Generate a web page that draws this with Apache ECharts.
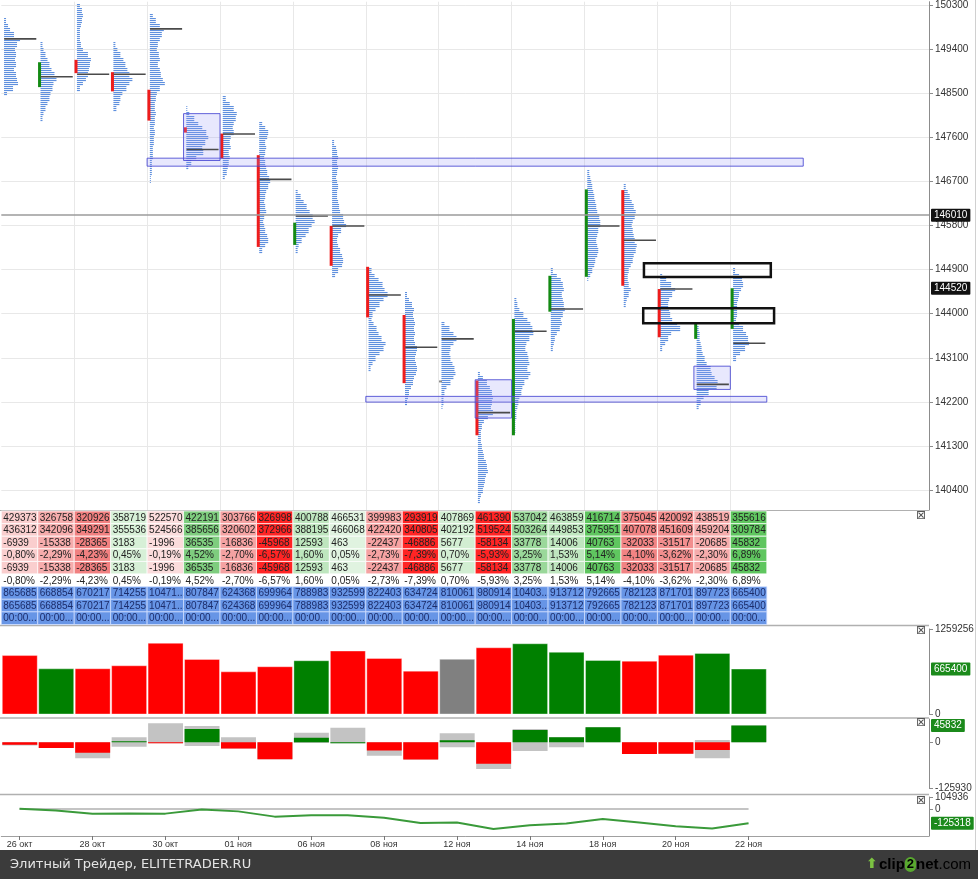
<!DOCTYPE html>
<html><head><meta charset="utf-8">
<script src="https://cdn.jsdelivr.net/npm/echarts@6/dist/echarts.min.js"></script>
<style>html,body{margin:0;padding:0;background:#fff;}#c{width:978px;height:879px;}</style>
</head><body><div id="c"></div>
<script>
// ---------- DATA ----------
const dateLabels = ['26 окт','28 окт','30 окт','01 ноя','06 ноя','08 ноя','12 ноя','14 ноя','18 ноя','20 ноя','22 ноя'];
const dateLabelDays = [0,2,4,6,8,10,12,14,16,18,20];
const priceTicks = [140400,141300,142200,143100,144000,144900,145800,146700,147600,148500,149400,150300];

const openPrice  = [null,148624,149181,148929,148571,147804,147676,147235,145404,145791,144957,143974,142638,142638,141519,144041,144753,146523,144503,143486,143690];
const closePrice = [null,149132,148909,148537,147941,147696,147168,145363,145858,144977,143925,142583,142638,141519,143893,144774,146537,144570,143519,143791,144520];
const dayDir = ['down','up','down','down','down','down','down','down','up','down','down','down','flat','down','up','up','up','down','down','up','up'];
const pocPrice = [149608,148836,148888,148888,149812,147351,147668,146741,145994,145791,144381,143315,143486,141981,143641,144097,145791,145500,144503,142557,143397];

const profileTop = [150000,149500,150300,149500,150100,148200,148400,147900,146500,147500,144900,144400,143800,142800,144300,144900,146900,146600,144800,143700,144900];
const profileVol = [
 [2,4,6,10,16,13,11,12,11,12,10,12,13,14,9,3],
 [2,3,5,7,9,11,14,16,13,12,10,9,7,5,3,2],
 [3,5,6,5,4,3,3,3,4,6,11,14,13,12,11,9,6,3],
 [2,4,7,10,12,14,16,19,16,13,9,7,6,3],
 [3,6,10,14,12,10,8,7,9,10,8,10,11,13,15,10,7,6,5,5,6,5,5,4,5,4,4,3,3,3,2,2,2,1,1],
 [1,3,8,12,16,20,22,19,16,17,10,5,2],
 [3,7,11,14,13,11,10,11,8,7,8,6,7,6,5,4,2],
 [3,6,9,8,6,7,6,5,6,7,8,10,11,9,7,6,5,6,7,5,4,5,6,8,9,6,3],
 [2,5,8,11,14,17,19,16,13,10,6,3,2],
 [2,4,5,6,5,6,5,4,5,6,5,5,6,7,8,11,12,14,9,6,5,6,8,10,11,10,6,3],
 [3,6,10,14,16,19,15,11,7,4,3,5,8,10,13,17,15,11,7,4,2],
 [2,4,7,9,8,9,10,9,10,9,10,12,11,10,11,12,11,9,8,6,4,3,2],
 [3,8,12,15,12,9,8,9,11,13,14,12,9,5,3,2,2,1],
 [2,5,9,12,14,15,14,13,15,10,6,4,3,3,3,4,5,6,8,9,10,8,7,6,5,3,2],
 [2,3,5,9,13,16,18,19,15,12,11,13,14,15,13,16,14,10,8,7,5,4,3,2,2,1,1,1],
 [2,6,10,12,13,11,12,13,14,12,10,11,9,6,4,3,2],
 [2,3,4,5,6,7,8,9,10,12,13,13,11,10,9,10,11,10,8,7,5,3,1],
 [2,4,6,8,10,12,11,9,8,9,10,11,13,12,10,9,7,5,4,4,5,7,5,3,2],
 [2,6,11,15,12,9,8,9,10,12,17,20,11,8,5,2],
 [2,3,3,4,5,6,8,10,14,15,18,21,20,12,7,4,2],
 [2,6,9,10,8,6,5,4,4,4,3,6,10,13,15,16,12,7,3]
];

// zones: [dayFrom, dayTo, priceTop, priceBottom, kind] kind 0=band 1=value area 2=frame
const zones = [
 [4,22,147174,147011,0],
 [10,21,142313,142196,0],
 [5,6,148083,147127,1],
 [13,14,142652,141871,1],
 [19,20,142929,142455,1],
 [17.63,21.11,145032,144747,2],
 [17.61,21.2,144109,143803,2]
];
const levelLine = 146010;
const lastPrice = 144520;

const buyVol  = [429373,326758,320926,358719,522570,422191,303766,326998,400788,466531,399983,293919,407869,461390,537042,463859,416714,375045,420092,438519,355616];
const sellVol = [436312,342096,349291,355536,524566,385656,320602,372966,388195,466068,422420,340805,402192,519524,503264,449853,375951,407078,451609,459204,309784];
const deltaVal = [-6939,-15338,-28365,3183,-1996,36535,-16836,-45968,12593,463,-22437,-46886,5677,-58134,33778,14006,40763,-32033,-31517,-20685,45832];
const deltaPct = [-0.80,-2.29,-4.23,0.45,-0.19,4.52,-2.70,-6.57,1.60,0.05,-2.73,-7.39,0.70,-5.93,3.25,1.53,5.14,-4.10,-3.62,-2.30,6.89];
const totalVol = [865685,668854,670217,714255,1047136,807847,624368,699964,788983,932599,822403,634724,810061,980914,1040306,913712,792665,782123,871701,897723,665400];
const timeText = '00:00:00';

const deltaMax = [0,0,0,13700,52000,44400,13700,0,26000,40000,0,0,24500,0,36000,14006,40763,0,0,6000,45832];
const deltaMin = [-9000,-15338,-43500,-12000,-2700,-10000,-16836,-45968,-2000,-2700,-36500,-46886,-13600,-72800,-23700,-13600,0,-32033,-31517,-43700,0];
const cumDelta = [2047,-13291,-41656,-38473,-40469,-3934,-20770,-66738,-54145,-53682,-76119,-123005,-117328,-175462,-141684,-127678,-86915,-118948,-150465,-171150,-125318];

const volMax = 1259256, deltaAxisMin = -125930, cumAxisTop = 104936;

// ---------- STYLE ----------
const FONT = '"Liberation Sans", Arial, sans-serif';
const RED = '#ee1c1c', GREEN = '#138a13', GRAY = '#8a8a8a';
const dirColor = d => d === 'up' ? GREEN : (d === 'down' ? RED : GRAY);
const volColor = d => d === 'up' ? '#008000' : (d === 'down' ? '#ff0000' : '#808080');
const COLW = 36.45;
const XMAX = 25.45;

const days = buyVol.map((_, i) => i);

function mix(c, t) { return 'rgb(' + c.map(v => Math.round(255 - (255 - v) * t)).join(',') + ')'; }
function deltaColor(p) {
  const a = Math.abs(p);
  if (p >= 0) return a > 5 ? '#5fc65f' : mix([55, 178, 55], 0.15 + 0.11 * a);
  return a > 5 ? '#ff2424' : mix([232, 48, 48], 0.15 + 0.11 * a);
}
const fmtPct = v => v.toFixed(2).replace('.', ',') + '%';
const trunc = s => s.length > 6 ? s.slice(0, 5) + '...' : s;

// ---------- SERIES DATA ----------
const profileData = [];
profileVol.forEach((arr, d) => arr.forEach((v, i) => profileData.push([d, profileTop[d] - 100 * i, v])));
const candleData = days.filter(d => openPrice[d] != null).map(d => [d, openPrice[d], closePrice[d], d]);
const pocData = days.map(d => [d, pocPrice[d]]);
const zoneData = zones.map(z => [z[0], z[2], z[1], z[3], z[4]]);
const tableRows = 9;
const tableData = [];
for (let r = 0; r < tableRows; r++) for (const c of days) tableData.push([c, r]);

function cellText(c, r) {
  switch (r) {
    case 0: return String(buyVol[c]);
    case 1: return String(sellVol[c]);
    case 2: case 4: return String(deltaVal[c]);
    case 3: case 5: return fmtPct(deltaPct[c]);
    case 6: case 7: return trunc(String(totalVol[c]));
    default: return trunc(timeText);
  }
}
function cellFill(c, r) {
  if (r <= 4) return deltaColor(deltaPct[c]);
  if (r === 5) return '#ffffff';
  return '#6795e6';
}

const tag = (txt, bg) => ({ show: true, position: 'end', formatter: txt, backgroundColor: bg, color: '#fff',
  fontSize: 10, fontFamily: FONT, padding: [2, 3, 1, 3], distance: 2, borderRadius: 1 });
const hiddenLine = { color: 'rgba(0,0,0,0)', width: 0 };

const gridLines = [];
for (let u = 2; u <= 20; u += 2) gridLines.push({ xAxis: u });
priceTicks.forEach(p => gridLines.push({ yAxis: p }));

const hiddenX = i => ({ type: 'value', gridIndex: i, min: 0, max: XMAX, show: false });
const plain = v => String(v);
const axisCommon = {
  position: 'right', axisLine: { show: true, onZero: false, lineStyle: { color: '#8c8c8c' } },
  axisTick: { show: true, length: 4, lineStyle: { color: '#8c8c8c' } },
  axisLabel: { color: '#333', fontSize: 10, fontFamily: FONT, margin: 6, formatter: plain },
  splitLine: { show: false }
};
function yAx(idx, min, max, ticks) {
  return Object.assign({}, axisCommon, { type: 'value', gridIndex: idx, min, max,
    axisTick: Object.assign({}, axisCommon.axisTick, { customValues: ticks }),
    axisLabel: Object.assign({}, axisCommon.axisLabel, { customValues: ticks }) });
}

const option = {
  animation: false,
  textStyle: { fontFamily: FONT },
  grid: [
    { left: 1.3, right: 49, top: 0, height: 510 },
    { left: 1.3, right: 49, top: 511, height: 113.5 },
    { left: 1.3, right: 49, top: 629, height: 85 },
    { left: 1.3, right: 49, top: 719, height: 69.5 },
    { left: 1.3, right: 49, top: 797, height: 39 }
  ],
  xAxis: [hiddenX(0), hiddenX(1), hiddenX(2), hiddenX(3), {
    type: 'value', gridIndex: 4, min: 0, max: XMAX, position: 'bottom',
    axisLine: { show: true, onZero: false, lineStyle: { color: '#a0a0a0' } },
    axisTick: { show: true, length: 4, lineStyle: { color: '#777' }, customValues: dateLabelDays.map(d => d + 0.5) },
    axisLabel: { color: '#333', fontSize: 9, margin: 4, customValues: dateLabelDays.map(d => d + 0.5),
      formatter: v => dateLabels[dateLabelDays.indexOf(Math.round(v - 0.5))] || '' },
    splitLine: { show: false }
  }],
  yAxis: [
    yAx(0, 139994, 150367, priceTicks),
    { type: 'value', gridIndex: 1, min: 0, max: tableRows, inverse: true, show: false },
    yAx(2, 0, volMax, [0, volMax]),
    yAx(3, deltaAxisMin, 63510, [deltaAxisMin, 0]),
    yAx(4, -236106, cumAxisTop, [0, cumAxisTop])
  ],
  series: [
    { // volume profiles
      type: 'custom', xAxisIndex: 0, yAxisIndex: 0, z: 2, silent: true, data: profileData,
      renderItem(params, api) {
        const d = api.value(0), p = api.value(1), v = api.value(2);
        const top = api.coord([d, p + 50]), bot = api.coord([d, p - 50]);
        const pxDay = api.size([1, 0])[0];
        const x0 = top[0] + pxDay * 0.075;
        const w = v / COLW * pxDay;
        const ch = [];
        for (let y = Math.ceil(top[1] / 2) * 2; y < bot[1]; y += 2)
          ch.push({ type: 'rect', shape: { x: x0, y: y, width: w, height: 1.1 }, style: { fill: '#5f90de' } });
        return { type: 'group', children: ch };
      },
      markLine: { silent: true, symbol: 'none', z: 1, label: { show: false },
        lineStyle: { color: '#e8e8e8', width: 1, type: 'solid' }, data: gridLines }
    },
    { // candle bodies
      type: 'custom', xAxisIndex: 0, yAxisIndex: 0, z: 3, silent: true, data: candleData,
      renderItem(params, api) {
        const d = api.value(0);
        const a = api.coord([d, api.value(1)]), b = api.coord([d, api.value(2)]);
        const y0 = Math.min(a[1], b[1]), h = Math.max(Math.abs(a[1] - b[1]), 2);
        return { type: 'rect', shape: { x: a[0] + 0.3, y: y0, width: 3, height: h },
          style: { fill: dirColor(dayDir[api.value(3)]) } };
      },
      markLine: { silent: true, symbol: 'none', z: 6, data: [
        { yAxis: levelLine, lineStyle: { color: '#9b9b9b', width: 1.5, type: 'solid' }, label: tag(String(levelLine), '#111') },
        { yAxis: lastPrice, lineStyle: hiddenLine, label: tag(String(lastPrice), '#111') }
      ] }
    },
    { // zones
      type: 'custom', xAxisIndex: 0, yAxisIndex: 0, z: 4, silent: true, data: zoneData,
      renderItem(params, api) {
        const k = api.value(4);
        const a = api.coord([api.value(0), api.value(1)]), b = api.coord([api.value(2), api.value(3)]);
        const shape = { x: a[0], y: a[1], width: b[0] - a[0], height: b[1] - a[1] };
        if (k === 2) return { type: 'rect', shape, style: { fill: 'none', stroke: '#111', lineWidth: 2.5 } };
        return { type: 'rect', shape, style: { fill: 'rgba(150,150,245,0.22)', stroke: 'rgba(70,70,210,0.85)', lineWidth: 1 } };
      }
    },
    { // POC lines
      type: 'custom', xAxisIndex: 0, yAxisIndex: 0, z: 5, silent: true, data: pocData,
      renderItem(params, api) {
        const d = api.value(0), p = api.value(1);
        const a = api.coord([d + 0.08, p]), b = api.coord([d + 0.96, p]);
        return { type: 'line', shape: { x1: a[0], y1: a[1], x2: b[0], y2: b[1] }, style: { stroke: '#4a4a4a', lineWidth: 1.6 } };
      }
    },
    { // table
      type: 'custom', xAxisIndex: 1, yAxisIndex: 1, z: 2, silent: true, data: tableData,
      renderItem(params, api) {
        const c = api.value(0), r = api.value(1);
        const a = api.coord([c, r]), b = api.coord([c + 1, r + 1]);
        const blue = r >= 6;
        return { type: 'group', children: [
          { type: 'rect', shape: { x: a[0], y: a[1], width: b[0] - a[0], height: b[1] - a[1] },
            style: { fill: cellFill(c, r), stroke: blue ? 'rgba(210,225,255,0.9)' : 'rgba(255,255,255,0.9)', lineWidth: 0.8 } },
          { type: 'text', style: { text: cellText(c, r), x: a[0] + 2, y: (a[1] + b[1]) / 2 + 0.5,
            fill: blue ? '#1c2d6b' : '#222', font: '10px ' + FONT, verticalAlign: 'middle', align: 'left' } }
        ] };
      }
    },
    { // volume bars
      type: 'custom', xAxisIndex: 2, yAxisIndex: 2, z: 2, silent: true,
      data: days.map(d => [d, totalVol[d]]),
      renderItem(params, api) {
        const d = api.value(0);
        const a = api.coord([d, api.value(1)]), b = api.coord([d + 1, 0]);
        return { type: 'rect', shape: { x: a[0] + 1, y: a[1], width: b[0] - a[0] - 1.5, height: b[1] - a[1] },
          style: { fill: volColor(dayDir[d]), stroke: 'rgba(255,255,255,0.35)', lineWidth: 1 } };
      },
      markLine: { silent: true, symbol: 'none', data: [
        { yAxis: totalVol[totalVol.length - 1], lineStyle: hiddenLine, label: tag(String(totalVol[totalVol.length - 1]), '#1b8a1b') } ] }
    },
    { // delta bars
      type: 'custom', xAxisIndex: 3, yAxisIndex: 3, z: 2, silent: true,
      data: days.map(d => [d, deltaVal[d], deltaMin[d], deltaMax[d]]),
      renderItem(params, api) {
        const d = api.value(0), v = api.value(1);
        const g1 = api.coord([d, api.value(3)]), g2 = api.coord([d + 1, api.value(2)]);
        const z0 = api.coord([d, 0]), z1 = api.coord([d + 1, v]);
        const x = g1[0] + 1, w = g2[0] - g1[0] - 1.5;
        return { type: 'group', children: [
          { type: 'rect', shape: { x, y: g1[1], width: w, height: g2[1] - g1[1] }, style: { fill: '#c3c3c3' } },
          { type: 'rect', shape: { x, y: Math.min(z0[1], z1[1]), width: w, height: Math.max(Math.abs(z1[1] - z0[1]), 1) },
            style: { fill: v >= 0 ? '#008000' : '#ff0000' } }
        ] };
      },
      markLine: { silent: true, symbol: 'none', data: [
        { yAxis: deltaVal[deltaVal.length - 1], lineStyle: hiddenLine, label: tag(String(deltaVal[deltaVal.length - 1]), '#1b8a1b') } ] }
    },
    { // zero line for cumulative delta
      type: 'line', xAxisIndex: 4, yAxisIndex: 4, z: 2, silent: true, symbol: 'none',
      data: days.map(d => [d + 0.5, 0]), lineStyle: { color: '#c4c4c4', width: 2 }
    },
    { // cumulative delta
      type: 'line', xAxisIndex: 4, yAxisIndex: 4, z: 3, silent: true, symbol: 'none',
      data: days.map(d => [d + 0.5, cumDelta[d]]), lineStyle: { color: '#3a9a3a', width: 2 },
      markLine: { silent: true, symbol: 'none', data: [
        { yAxis: cumDelta[cumDelta.length - 1], lineStyle: hiddenLine, label: tag(String(cumDelta[cumDelta.length - 1]), '#1b8a1b') } ] }
    }
  ],
  graphic: [
    { type: 'line', shape: { x1: 0, y1: 510.5, x2: 929, y2: 510.5 }, style: { stroke: '#b0b0b0', lineWidth: 1 }, silent: true },
    { type: 'line', shape: { x1: 0, y1: 625.5, x2: 929, y2: 625.5 }, style: { stroke: '#b0b0b0', lineWidth: 1.5 }, silent: true },
    { type: 'line', shape: { x1: 0, y1: 718, x2: 929, y2: 718 }, style: { stroke: '#b0b0b0', lineWidth: 1.5 }, silent: true },
    { type: 'line', shape: { x1: 0, y1: 794.5, x2: 929, y2: 794.5 }, style: { stroke: '#b0b0b0', lineWidth: 1.5 }, silent: true },
    { type: 'line', shape: { x1: 975.5, y1: 0, x2: 975.5, y2: 850 }, style: { stroke: '#d0d0d0', lineWidth: 1 }, silent: true },
    { type: 'text', x: 916, y: 510, style: { text: '⊠', font: '12px "DejaVu Sans"', fill: '#555' }, silent: true },
    { type: 'text', x: 916, y: 625, style: { text: '⊠', font: '12px "DejaVu Sans"', fill: '#555' }, silent: true },
    { type: 'text', x: 916, y: 717, style: { text: '⊠', font: '12px "DejaVu Sans"', fill: '#555' }, silent: true },
    { type: 'text', x: 916, y: 795, style: { text: '⊠', font: '12px "DejaVu Sans"', fill: '#555' }, silent: true },
    { type: 'rect', shape: { x: 0, y: 850, width: 978, height: 29 }, style: { fill: '#3b3b3b' }, silent: true },
    { type: 'text', x: 10, y: 864.5, style: { text: 'Элитный Трейдер, ELITETRADER.RU', font: '13px "DejaVu Sans"', fill: '#e4e4e4', verticalAlign: 'middle' }, silent: true },
    { type: 'text', x: 866, y: 864.5, style: { text: '⬆', font: 'bold 14px "DejaVu Sans"', fill: '#7cc242', verticalAlign: 'middle' }, silent: true },
    { type: 'text', x: 879, y: 864.5, silent: true, style: {
      text: '{a|clip}{b|2}{a|net}{c|.com}', verticalAlign: 'middle',
      rich: {
        a: { fontFamily: FONT, fontWeight: 'bold', fontSize: 15, color: '#ffffff' },
        b: { fontFamily: FONT, fontWeight: 'bold', fontSize: 13, color: '#ffffff', backgroundColor: '#59a82f', borderRadius: 7, padding: [1, 2] },
        c: { fontFamily: FONT, fontSize: 15, color: '#bdbdbd' }
      } } }
  ]
};

const chart = echarts.init(document.getElementById('c'), null, { renderer: 'canvas' });
chart.setOption(option);
</script>
</body></html>
